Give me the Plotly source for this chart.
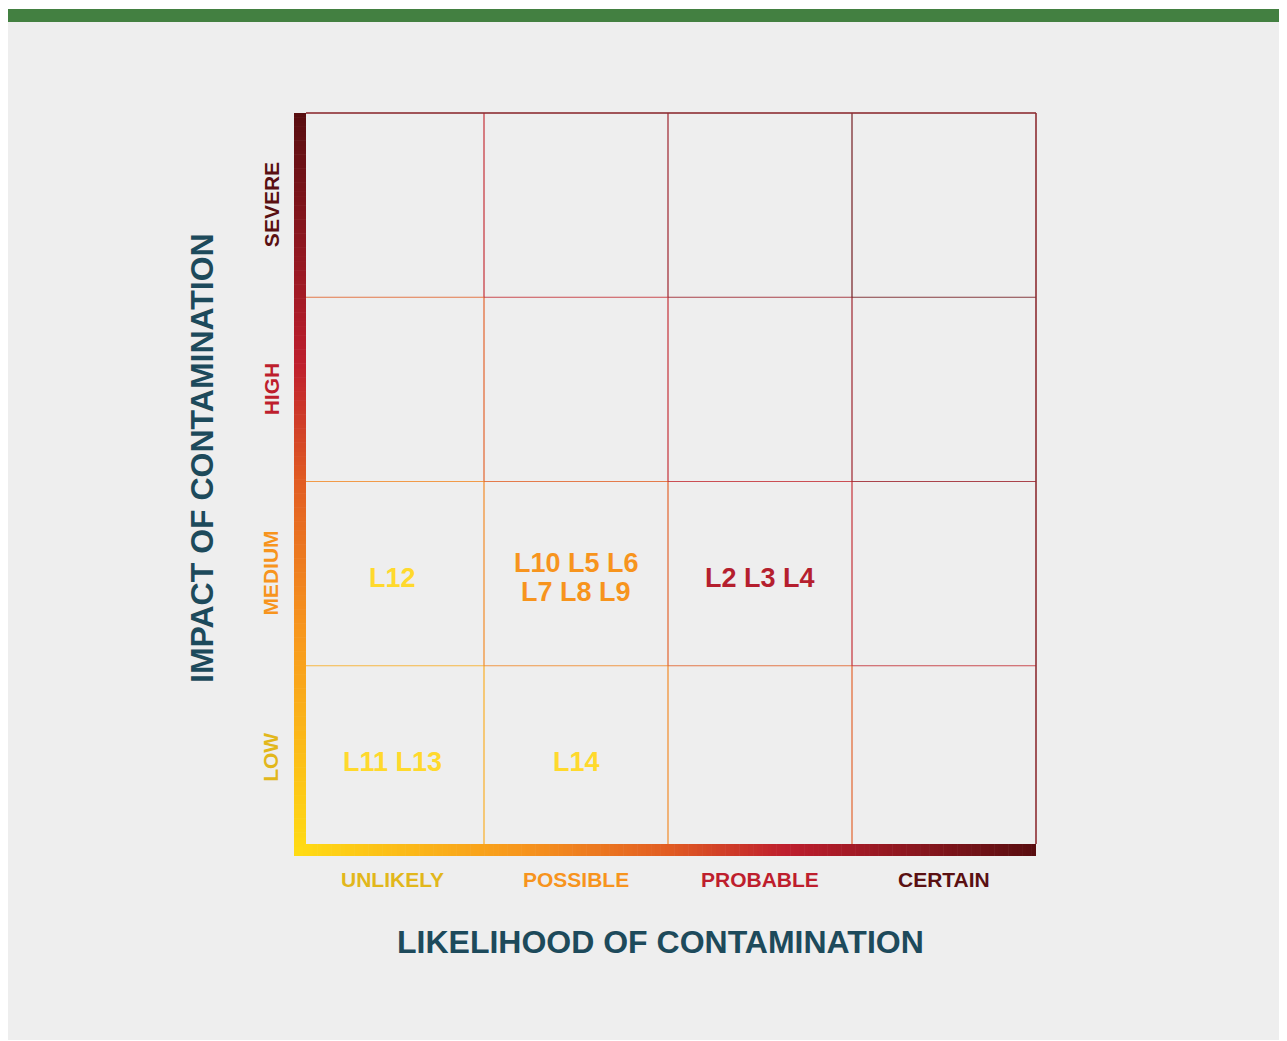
import plotly.graph_objects as go

# ---------------- data ----------------
likelihood = ["UNLIKELY", "POSSIBLE", "PROBABLE", "CERTAIN"]
impact = ["LOW", "MEDIUM", "HIGH", "SEVERE"]
likelihood_colors = ["#E2B71B", "#F7941D", "#BE1E2D", "#5A1012"]
impact_colors = ["#E2B71B", "#F7941D", "#BE1E2D", "#5A1012"]

cell_likelihood = ["UNLIKELY", "POSSIBLE", "PROBABLE", "UNLIKELY", "POSSIBLE"]
cell_impact = ["MEDIUM", "MEDIUM", "MEDIUM", "LOW", "LOW"]
cell_labels = ["L12", "L10 L5 L6<br>L7 L8 L9", "L2 L3 L4", "L11 L13", "L14"]
cell_colors = ["#FFD92C", "#F7941D", "#B51F2E", "#FFD92C", "#FFD92C"]

x_title = "LIKELIHOOD OF CONTAMINATION"
y_title = "IMPACT OF CONTAMINATION"
title_color = "#1D4A5B"

# ---------------- helpers ----------------
STOPS = [(0.0, (255, 219, 20)), (0.3, (247, 150, 29)), (0.5, (225, 92, 34)),
         (0.66, (190, 30, 45)), (1.0, (88, 14, 16))]


def grad(t, alpha=1.0):
    t = max(0.0, min(1.0, t))
    for (t0, c0), (t1, c1) in zip(STOPS[:-1], STOPS[1:]):
        if t <= t1:
            f = (t - t0) / (t1 - t0) if t1 > t0 else 0
            c = [round(a + (b - a) * f) for a, b in zip(c0, c1)]
            return f"rgba({c[0]},{c[1]},{c[2]},{alpha})"
    c = STOPS[-1][1]
    return f"rgba({c[0]},{c[1]},{c[2]},{alpha})"


OFF = 8  # browser body margin
W, H = 1287 - OFF, 1041 - OFF
ML, MT = 294 - OFF, 112 - OFF
MR, MB = W - (1037 - OFF), H - (856 - OFF)
UNIT = 184.0
half = 6 / UNIT
n = len(likelihood)
PW, PH = W - ML - MR, H - MT - MB

x_idx = {c: i for i, c in enumerate(likelihood)}
y_idx = {c: i for i, c in enumerate(impact)}


def px_x(px):  # reference-screen pixel -> paper
    return (px - OFF - ML) / PW


def px_y(py):
    return (H - MB - (py - OFF)) / PH


shapes = []
# page background
shapes.append(dict(type="rect", xref="paper", yref="paper", x0=px_x(5), x1=px_x(1300),
                   y0=px_y(1040), y1=px_y(9), fillcolor="#EEEEEE", line_width=0, layer="below"))
shapes.append(dict(type="rect", xref="paper", yref="paper", x0=px_x(5), x1=px_x(1300),
                   y0=px_y(22), y1=px_y(9), fillcolor="#438041", line_width=0, layer="below"))

# grid lines (segments with gradient colours)
for k in range(1, n):
    for j in range(n):
        t = (j + 0.5 + k) / 7.0
        shapes.append(dict(type="line", x0=j, x1=j + 1, y0=k, y1=k,
                           line=dict(color=grad(t, 0.8), width=1.2), layer="below"))
        shapes.append(dict(type="line", x0=k, x1=k, y0=j, y1=j + 1,
                           line=dict(color=grad(t, 0.95), width=1.2), layer="below"))
# top and right border
shapes.append(dict(type="line", x0=half, x1=n, y0=n, y1=n,
                   line=dict(color="rgba(140,45,50,0.8)", width=2), layer="below"))
shapes.append(dict(type="line", x0=n, x1=n, y0=half, y1=n,
                   line=dict(color="rgba(140,45,50,0.8)", width=2), layer="below"))

# gradient L-shaped axis bars
N = 160
for s in range(N):
    a0 = -half + (n + half) * s / N
    a1 = -half + (n + half) * (s + 1) / N + 0.003
    col = grad(max(0, (a0 + a1) / 2) / n)
    shapes.append(dict(type="rect", x0=-half, x1=half, y0=a0, y1=min(a1, n),
                       fillcolor=col, line_width=0, layer="above"))
    shapes.append(dict(type="rect", x0=a0, x1=min(a1, n), y0=-half, y1=half,
                       fillcolor=col, line_width=0, layer="above"))


def d_paper(v):  # data value -> paper (same range on both axes)
    return (v + half) / (n + 1 / UNIT + half)


FONT = "Liberation Sans, Arial, Helvetica, sans-serif"
C = dict(xanchor="center", yanchor="middle", showarrow=False, xref="paper", yref="paper")
annotations = []
for i, (lab, c) in enumerate(zip(likelihood, likelihood_colors)):
    annotations.append(dict(x=d_paper(i + 0.5), y=px_y(879), text=lab,
                            font=dict(family=FONT, size=21, color=c, weight="bold"), **C))
for i, (lab, c) in enumerate(zip(impact, impact_colors)):
    annotations.append(dict(x=px_x(271), y=d_paper(i + 0.5), text=lab, textangle=-90,
                            font=dict(family=FONT, size=21, color=c, weight="bold"), **C))
annotations.append(dict(x=px_x(660), y=px_y(942), text=x_title,
                        font=dict(family=FONT, size=32, color=title_color, weight="bold"), **C))
annotations.append(dict(x=px_x(202), y=px_y(458), text=y_title, textangle=-90,
                        font=dict(family=FONT, size=32, color=title_color, weight="bold"), **C))

# cell labels, line by line (29 px line spacing)
for cx, cy, lab, c in zip(cell_likelihood, cell_impact, cell_labels, cell_colors):
    lines = lab.split("<br>")
    for li, line in enumerate(lines):
        annotations.append(dict(x=x_idx[cx] + 0.5, y=y_idx[cy] + 0.5, xref="x", yref="y",
                                xanchor="center", yanchor="middle",
                                text=line, showarrow=False,
                                yshift=((len(lines) - 1) / 2 - li) * 29 - 4,
                                font=dict(family=FONT, size=27, color=c, weight="bold")))

fig = go.Figure()
fig.add_trace(go.Scatter(x=[x_idx[c] + 0.5 for c in cell_likelihood],
                         y=[y_idx[c] + 0.5 for c in cell_impact],
                         mode="markers", marker=dict(opacity=0), hoverinfo="skip", showlegend=False))

fig.update_layout(
    width=W, height=H,
    margin=dict(l=ML, r=MR, t=MT, b=MB, pad=0),
    paper_bgcolor="#FFFFFF", plot_bgcolor="rgba(0,0,0,0)",
    xaxis=dict(range=[-half, n + 1 / UNIT], visible=False, fixedrange=True),
    yaxis=dict(range=[-half, n + 1 / UNIT], visible=False, fixedrange=True),
    shapes=shapes, annotations=annotations, showlegend=False,
)

fig.write_html("out.html")
